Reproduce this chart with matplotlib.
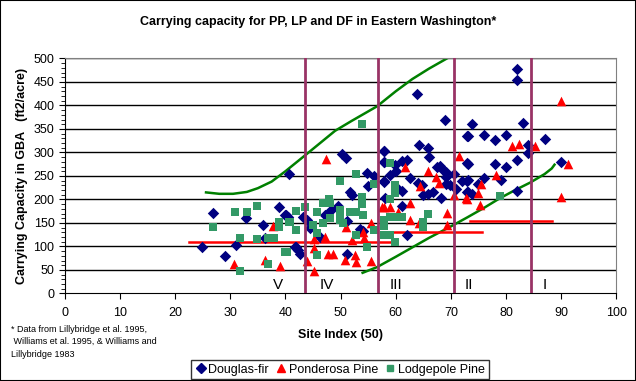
import matplotlib
matplotlib.use("Agg")
import matplotlib.pyplot as plt
from matplotlib.lines import Line2D

plt.rcParams['font.family'] = ['Liberation Sans', 'DejaVu Sans']

# Douglas-fir (site index, carrying capacity)
df_x = [26.9, 38.9, 40.1, 32.8, 35.9, 36.3, 24.9, 31.0, 29.0, 40.7,
        50.2, 51.0, 54.8, 56.0, 51.7, 52.1, 39.9, 40.5, 43.2, 44.0,
        47.1, 47.5, 51.1, 53.5, 54.0, 41.9, 42.6, 51.1, 46.3, 57.8,
        57.8, 57.8, 41.7, 42.2, 63.9, 69.0, 57.9, 64.3, 65.9, 72.9,
        57.9, 59.9, 61.1, 62.0, 59.0, 57.9, 67.4, 68.1, 68.6, 69.1,
        69.1, 69.1, 69.9, 72.0, 73.0, 73.0, 64.0, 64.7, 60.5, 61.1,
        65.0, 65.9, 66.8, 68.2, 73.0, 58.1, 61.1, 62.1, 82.0, 82.0,
        73.9, 83.0, 73.1, 76.1, 78.0, 80.0, 87.0, 84.0, 84.0, 82.0,
        78.0, 80.0, 73.1, 90.0, 73.1, 76.1, 79.1, 73.1, 73.8, 82.0,
        48.5, 49.5, 55.0, 44.5, 60.0, 62.5, 66.0, 70.5, 71.0, 75.0]
df_y = [172, 184, 167, 160, 145, 119, 99, 104, 79, 254,
        296, 289, 256, 249, 215, 209, 167, 162, 163, 157,
        167, 169, 155, 138, 133, 99, 84, 84, 121, 303,
        280, 237, 99, 92, 424, 370, 303, 315, 310, 334,
        280, 273, 282, 283, 252, 239, 268, 271, 262, 259,
        247, 232, 230, 239, 239, 278, 234, 230, 223, 218,
        209, 211, 216, 204, 216, 204, 186, 124, 478, 455,
        360, 363, 334, 337, 327, 337, 328, 315, 299, 283,
        275, 269, 276, 279, 241, 245, 241, 216, 211, 218,
        180, 186, 228, 140, 260, 245, 290, 255, 222, 232]

# Ponderosa Pine
pp_x = [37.7, 30.7, 36.3, 39.1, 47.4, 45.2, 45.2, 47.2, 43.9, 45.2,
        47.8, 48.7, 50.8, 52.6, 52.8, 52.0, 54.1, 54.3, 55.5, 55.5,
        50.9, 57.6, 61.7, 65.9, 67.3, 67.9, 64.4, 71.4, 70.6, 72.8,
        62.5, 57.8, 59.0, 69.3, 62.5, 64.3, 69.3, 60.5, 90.0, 81.1,
        82.4, 85.2, 91.3, 78.2, 75.5, 74.9, 72.9, 75.3, 90.0]
pp_y = [144, 63, 71, 58, 285, 115, 97, 121, 70, 48,
        84, 84, 71, 82, 66, 114, 131, 118, 150, 69,
        142, 184, 268, 261, 248, 234, 228, 292, 209, 203,
        193, 184, 183, 172, 156, 150, 145, 174, 409, 314,
        317, 314, 275, 252, 232, 213, 202, 188, 206]

# Lodgepole Pine
lp_x = [30.9, 33.0, 34.8, 26.9, 38.9, 38.9, 40.7, 31.8, 34.8, 36.9,
        37.9, 40.0, 36.9, 31.8, 53.9, 52.8, 49.9, 56.0, 47.9, 46.9,
        48.1, 53.8, 53.8, 49.9, 49.9, 49.9, 51.7, 52.8, 54.0, 41.9,
        40.8, 45.8, 45.0, 46.9, 42.0, 45.8, 52.8, 45.8, 54.8, 56.0,
        40.2, 59.0, 59.9, 59.9, 59.0, 65.9, 65.0, 65.0, 59.0, 60.1,
        61.1, 57.9, 57.9, 57.9, 59.0, 59.9, 78.9, 43.5, 48.0, 50.5]
lp_y = [174, 174, 186, 142, 152, 142, 152, 117, 116, 117,
        119, 89, 62, 48, 360, 254, 239, 232, 200, 193,
        192, 205, 191, 177, 167, 156, 174, 174, 167, 176,
        152, 174, 145, 150, 136, 129, 124, 82, 99, 135,
        89, 278, 230, 213, 202, 170, 152, 142, 163, 163,
        163, 156, 143, 124, 124, 110, 208, 185, 160, 150]

# envelope curves
upper_x = [25.6, 28, 30.5, 33, 35, 37.5, 40, 42, 44, 46.5, 49, 52, 56.6, 60, 63, 66, 69.3]
upper_y = [215, 212, 212, 216, 224, 238, 260, 279, 298, 322, 346, 367, 398, 430, 456, 478, 500]
lower_x = [54, 56.6, 60, 63, 66, 69.9, 73, 76, 78.8, 81.5, 84.4, 87, 88.3, 88.8]
lower_y = [44, 56, 78, 98, 118, 142, 162, 182, 202, 219, 236, 254, 266, 274]

# site class boundaries and labels
class_bounds = [43.5, 56.7, 70.5, 84.6]
class_names = ['V', 'IV', 'III', 'II', 'I']
class_pos = [38.7, 47.5, 60.0, 73.3, 87.0]

# mean carrying capacity segments (x start, x end, y)
seg_x0 = [22.6, 58.6, 73.4]
seg_x1 = [59.5, 75.6, 88.4]
seg_y = [110, 131, 155]

fig = plt.figure(figsize=(6.36, 3.81), dpi=100)
fig.patches.append(plt.Rectangle((0, 0), 1, 1, transform=fig.transFigure,
                                 fill=False, edgecolor='black', linewidth=1.5))
ax = fig.add_axes([0.102, 0.2297, 0.867, 0.617])

for y in range(50, 501, 50):
    ax.axhline(y, color='black', linewidth=1, zorder=1)

ax.plot(upper_x, upper_y, color='#008000', linewidth=1.8, zorder=2)
ax.plot(lower_x, lower_y, color='#008000', linewidth=1.8, zorder=2)
for x0, x1, y in zip(seg_x0, seg_x1, seg_y):
    ax.plot([x0, x1], [y, y], color='#FF0000', linewidth=1.8, zorder=2)

ax.scatter(df_x, df_y, marker='D', s=34, color='#000080', zorder=3, linewidths=0)
ax.scatter(pp_x, pp_y, marker='^', s=48, color='#FF0000', zorder=3, linewidths=0)
ax.scatter(lp_x, lp_y, marker='s', s=30, color='#339966', zorder=3, linewidths=0)

for b in class_bounds:
    ax.axvline(b, color='#993366', linewidth=2, zorder=4)
for name, p in zip(class_names, class_pos):
    ax.text(p, 18, name, ha='center', va='center', fontsize=11, zorder=5)

ax.set_xlim(0, 100)
ax.set_ylim(0, 500)
ax.set_xticks(range(0, 101, 10))
ax.set_yticks(range(0, 501, 50))
ax.set_yticks(range(0, 501, 10), minor=True)
ax.tick_params(axis='both', direction='out', labelsize=9, length=4)
ax.tick_params(axis='x', pad=6)
ax.tick_params(axis='y', which='minor', direction='out', length=3)
ax.spines['top'].set_color('gray')
ax.spines['right'].set_color('gray')

ax.set_xlabel('Site Index (50)', fontsize=9, fontweight='bold', labelpad=7)
ax.set_ylabel('Carrying Capacity in GBA   (ft2/acre)', fontsize=9,
              fontweight='bold', labelpad=4)
fig.text(0.5, 0.943, 'Carrying capacity for PP, LP and DF in Eastern Washington*',
         ha='center', va='center', fontsize=9, fontweight='bold')
fig.text(0.018, 0.148, '* Data from Lillybridge et al. 1995,\n Williams et al. 1995, & Williams and\nLillybridge 1983',
         ha='left', va='top', fontsize=6.5, linespacing=1.5)

handles = [Line2D([], [], marker='D', color='#000080', linestyle='', markersize=5),
           Line2D([], [], marker='^', color='#FF0000', linestyle='', markersize=6),
           Line2D([], [], marker='s', color='#339966', linestyle='', markersize=5)]
leg = fig.legend(handles, ['Douglas-fir', 'Ponderosa Pine', 'Lodgepole Pine'],
                 loc='center', bbox_to_anchor=(0.534, 0.03), ncol=3, fontsize=9,
                 frameon=True, fancybox=False, handletextpad=0.1,
                 columnspacing=0.5, handlelength=1.0, borderpad=0.3)
leg.get_frame().set_edgecolor('black')
leg.get_frame().set_linewidth(1)

fig.savefig('out.png', dpi=100)
